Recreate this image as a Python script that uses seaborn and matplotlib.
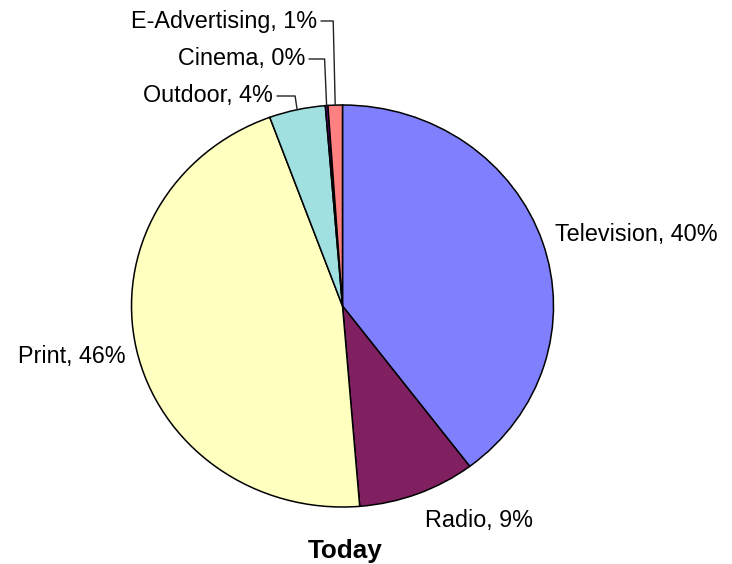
import numpy as np
import matplotlib
matplotlib.use("Agg")
import matplotlib.pyplot as plt
import seaborn as sns

categories = ["Television", "Radio", "Print", "Outdoor", "Cinema", "E-Advertising"]
values = [39.7, 9.0, 45.7, 4.3, 0.2, 1.1]
colors = ["#8080FF", "#802060", "#FFFFC0", "#A0E0E0", "#600080", "#FF8080"]
title = "Today"

sns.set_theme(style="white")
plt.rcParams["font.family"] = ["Liberation Sans", "DejaVu Sans"]

W, H = 732, 564
cx, cy, rx, ry = 342.5, 306.0, 211.0, 201.0

def P(x, y):
    return ((x - cx) / rx, (cy - y) / ry)

fig = plt.figure(figsize=(W / 100, H / 100), dpi=100)
ax = fig.add_axes([0, 0, 1, 1])
palette = sns.color_palette(colors)
wedges, _ = ax.pie(values, colors=palette, startangle=90, counterclock=False,
                   wedgeprops=dict(edgecolor="black", linewidth=1.1))
ax.set_aspect("auto")
ax.set_xlim(P(0, 0)[0], P(W, 0)[0])
ax.set_ylim(P(0, H)[1], P(0, 0)[1])
ax.axis("off")

labels = [f"{c}, {round(v):d}%" for c, v in zip(categories, values)]
fs = 16.8

# label placement (pixel layout): x, baseline y, ha
layout = {
    "Television": (555, 241, "left"),
    "Radio": (425, 527, "left"),
    "Print": (126, 363, "right"),
    "Outdoor": (273, 102, "right"),
    "Cinema": (305, 65, "right"),
    "E-Advertising": (317, 28, "right"),
}
leader_y = {"Outdoor": 96, "Cinema": 59, "E-Advertising": 21}

for w, cat, lab in zip(wedges, categories, labels):
    x, y, ha = layout[cat]
    tx, ty = P(x, y)
    ax.text(tx, ty, lab, ha=ha, va="baseline", fontsize=fs, color="black")
    if cat in leader_y:
        mid = np.deg2rad((w.theta1 + w.theta2) / 2)
        ex, ey = np.cos(mid), np.sin(mid)
        ly = leader_y[cat]
        x0 = P(x + 4, ly)
        corner_x = cx + ex * rx
        x1 = P(corner_x - 2, ly)
        ax.plot([x0[0], x1[0], ex], [x0[1], x1[1], ey], color="#222222", lw=1.0)

tx, ty = P(345, 558)
ax.text(tx, ty, title, ha="center", va="baseline", fontsize=18.8,
        fontweight="bold", color="black")

fig.savefig("out.png", dpi=100)
